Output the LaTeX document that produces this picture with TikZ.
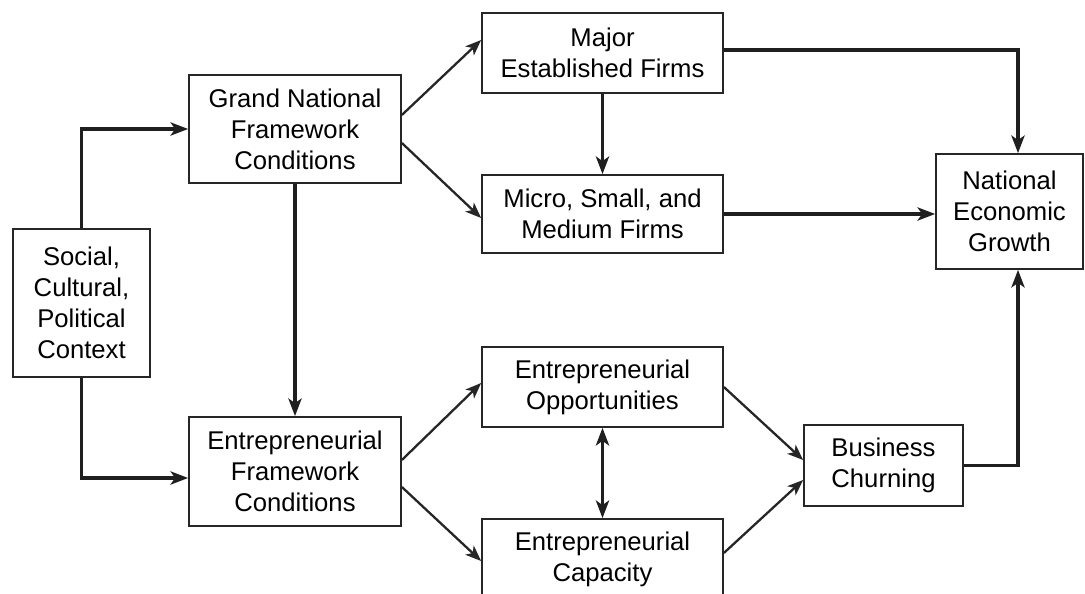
\documentclass[tikz,border=0pt]{standalone}
\usepackage{fontspec}
\setmainfont{Liberation Sans}
\usetikzlibrary{arrows.meta}
\begin{document}
\begin{tikzpicture}[x=0.02cm,y=-0.02cm,
  box/.style={draw=black!85, line width=1pt, fill=white, align=center,
    inner sep=2pt, font=\fontsize{14.6}{17.6}\selectfont},
  heavy/.style={draw=black!88, line width=1.9pt,
    -{Stealth[length=10pt,width=7.5pt,inset=2.6pt]}},
  light/.style={draw=black!85, line width=1.3pt,
    -{Stealth[length=9pt,width=7pt,inset=2.4pt]}},
  both/.style={draw=black!88, line width=1.9pt,
    {Stealth[length=10pt,width=7.5pt,inset=2.6pt]}-{Stealth[length=10pt,width=7.5pt,inset=2.6pt]}}]

\useasboundingbox (0,0) rectangle (1085,594);
\fill[white] (0,0) rectangle (1085,594);
\clip (0,0) rectangle (1085,594);

% boxes
\node[box, minimum width=2.74cm, minimum height=2.96cm] (social) at (81.5,303)
  {Social,\\Cultural,\\Political\\Context};
\node[box, minimum width=4.24cm, minimum height=2.16cm] (grand) at (295,129)
  {Grand National\\Framework\\Conditions};
\node[box, minimum width=4.24cm, minimum height=2.18cm] (efc) at (295,471.5)
  {Entrepreneurial\\Framework\\Conditions};
\node[box, minimum width=4.82cm, minimum height=1.60cm] (major) at (602.5,53)
  {Major\\Established Firms};
\node[box, minimum width=4.82cm, minimum height=1.56cm] (micro) at (602.5,214)
  {Micro, Small, and\\Medium Firms};
\node[box, minimum width=4.82cm, minimum height=1.60cm] (opp) at (602.5,387)
  {Entrepreneurial\\Opportunities};
\node[box, minimum width=4.82cm, minimum height=1.60cm] (cap) at (602.5,559)
  {Entrepreneurial\\Capacity};
\node[box, minimum width=2.94cm, minimum height=2.30cm] (nat) at (1009.5,211.5)
  {National\\Economic\\Growth};
\node[box, minimum width=3.18cm, minimum height=1.62cm] (bus) at (883.5,465.5)
  {Business\\Churning};

% connectors
\draw[heavy] (social.north) |- (grand.west);
\draw[heavy] (social.south) |- ([yshift=-0.13cm]efc.west);
\draw[heavy] (grand.south) -- (efc.north);
\draw[light] ([yshift=0.28cm]grand.east) -- ([yshift=0.26cm]major.west);
\draw[light] ([yshift=-0.28cm]grand.east) -- ([yshift=-0.08cm]micro.west);
\draw[light] ([yshift=0.23cm]efc.east) -- ([yshift=0.08cm]opp.west);
\draw[light] ([yshift=-0.31cm]efc.east) -- ([yshift=-0.04cm]cap.west);
\draw[heavy] (major.south) -- (micro.north);
\draw[heavy] ([yshift=0.06cm]major.east) -| ([xshift=0.17cm]nat.north);
\draw[heavy] (micro.east) -- (micro.east -| nat.west);
\draw[both] (opp.south) -- (cap.north);
\draw[light] (opp.east) -- ([yshift=0.11cm]bus.west);
\draw[light] ([yshift=0.12cm]cap.east) -- ([yshift=-0.29cm]bus.west);
\draw[heavy] (bus.east) -| ([xshift=0.17cm]nat.south);
\end{tikzpicture}
\end{document}
